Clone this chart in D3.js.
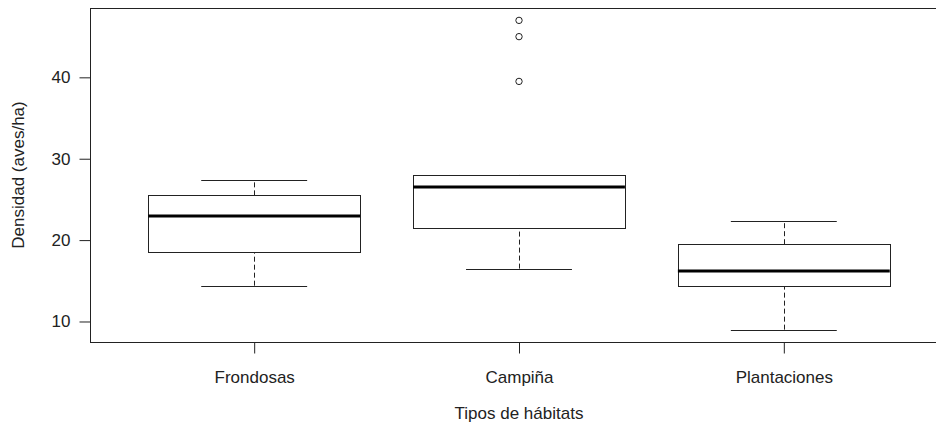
<!DOCTYPE html>
<html>
<head>
<meta charset="utf-8">
<script src="https://cdn.jsdelivr.net/npm/d3@7"></script>
<style>
  body { margin: 0; background: #fff; }
  svg { display: block; overflow: hidden; }
  text { font-family: "Liberation Sans", Arial, sans-serif; fill: #222; }
</style>
</head>
<body>
<svg class="chart"></svg>
<script>
// habitat categories and boxplot stats (aves/ha)
const categories = ["Frondosas", "Campiña", "Plantaciones"]
const whisker_low = [14.4, 16.5, 9.0]
const q1 = [18.5, 21.5, 14.4]
const medians = [23.0, 26.5, 16.2]
const q3 = [25.5, 28.0, 19.5]
const whisker_high = [27.4, 28.0, 22.4]
const outliers = [[], [39.5, 45.0, 47.0], []]
const y_ticks = [10, 20, 30, 40]

const width = 936
const height = 428
const plot = {left: 90, top: 8, right: 948, bottom: 342}

const svg = d3.select(".chart")
    .attr("width", width)
    .attr("height", height)

let data = categories.map((c, i) => {
    return {
        name: c,
        pos: i + 1,
        lo: whisker_low[i],
        q1: q1[i],
        med: medians[i],
        q3: q3[i],
        hi: whisker_high[i],
        out: outliers[i]
    }
})

// R style: extend data range by 4% each side
let ymin = d3.min(data, d => d3.min([d.lo, ...d.out]))
let ymax = d3.max(data, d => d3.max([d.hi, ...d.out]))
let ypad = (ymax - ymin) * 0.04

const xScale = d3.scaleLinear()
    .domain([0.5 - 0.12, 3.5 + 0.12])
    .range([plot.left, plot.right])

const yScale = d3.scaleLinear()
    .domain([ymin - ypad, ymax + ypad])
    .range([plot.bottom, plot.top])

const halfBox = (xScale(1.4) - xScale(1)) // boxwex 0.8
const halfCap = halfBox / 2

// axes
let yAxis = svg.append("g")
    .attr("transform", `translate(${plot.left + 0.5}, 0)`)
    .call(d3.axisLeft(yScale).tickValues(y_ticks).tickSize(11).tickPadding(9))
yAxis.select(".domain").remove()
yAxis.selectAll("text")
    .style("font-size", "17px")
    .attr("fill", "#222")
yAxis.selectAll("line").attr("stroke", "#222")

let xAxis = svg.append("g")
    .attr("transform", `translate(0, ${plot.bottom + 0.5})`)
    .call(d3.axisBottom(xScale).tickValues(data.map(d => d.pos))
        .tickFormat((d, i) => categories[i]).tickSize(11).tickPadding(17))
xAxis.select(".domain").remove()
xAxis.selectAll("text")
    .style("font-size", "17px")
    .attr("fill", "#222")
xAxis.selectAll("line").attr("stroke", "#222")

// frame
svg.append("rect")
    .attr("x", plot.left + 0.5)
    .attr("y", plot.top + 0.5)
    .attr("width", plot.right - plot.left)
    .attr("height", plot.bottom - plot.top)
    .attr("fill", "none")
    .attr("stroke", "#222")
    .attr("stroke-width", 1)

let boxes = svg.append("g")
    .selectAll("g.box")
    .data(data)
    .enter()
    .append("g")
    .classed("box", true)

const px = v => Math.round(v) + 0.5

// dashed whiskers
boxes.append("line")
    .attr("x1", d => px(xScale(d.pos)))
    .attr("x2", d => px(xScale(d.pos)))
    .attr("y1", d => yScale(d.lo))
    .attr("y2", d => yScale(d.q1))
    .attr("stroke", "#222")
    .attr("stroke-dasharray", "5,3")
boxes.append("line")
    .attr("x1", d => px(xScale(d.pos)))
    .attr("x2", d => px(xScale(d.pos)))
    .attr("y1", d => yScale(d.q3))
    .attr("y2", d => yScale(d.hi))
    .attr("stroke", "#222")
    .attr("stroke-dasharray", "5,3")

// staples
boxes.append("line")
    .attr("x1", d => xScale(d.pos) - halfCap)
    .attr("x2", d => xScale(d.pos) + halfCap)
    .attr("y1", d => px(yScale(d.lo)))
    .attr("y2", d => px(yScale(d.lo)))
    .attr("stroke", "#222")
boxes.append("line")
    .attr("x1", d => xScale(d.pos) - halfCap)
    .attr("x2", d => xScale(d.pos) + halfCap)
    .attr("y1", d => px(yScale(d.hi)))
    .attr("y2", d => px(yScale(d.hi)))
    .attr("stroke", "#222")

// box
boxes.append("rect")
    .attr("x", d => px(xScale(d.pos) - halfBox))
    .attr("y", d => px(yScale(d.q3)))
    .attr("width", d => Math.round(2 * halfBox))
    .attr("height", d => Math.round(yScale(d.q1) - yScale(d.q3)))
    .attr("fill", "white")
    .attr("stroke", "#222")

// median
boxes.append("line")
    .attr("x1", d => xScale(d.pos) - halfBox)
    .attr("x2", d => xScale(d.pos) + halfBox)
    .attr("y1", d => Math.round(yScale(d.med)))
    .attr("y2", d => Math.round(yScale(d.med)))
    .attr("stroke", "#000")
    .attr("stroke-width", 3)

// outliers
boxes.selectAll("circle.out")
    .data(d => d.out.map(v => ({pos: d.pos, v: v})))
    .enter()
    .append("circle")
    .classed("out", true)
    .attr("cx", d => xScale(d.pos))
    .attr("cy", d => yScale(d.v))
    .attr("r", 3.2)
    .attr("fill", "none")
    .attr("stroke", "#222")

// axis titles
svg.append("text")
    .attr("x", xScale(2))
    .attr("y", 419)
    .attr("text-anchor", "middle")
    .style("font-size", "17px")
    .text("Tipos de hábitats")

svg.append("text")
    .attr("transform", `translate(24, ${(plot.top + plot.bottom) / 2}) rotate(-90)`)
    .attr("text-anchor", "middle")
    .style("font-size", "17px")
    .text("Densidad (aves/ha)")
</script>
</body>
</html>
